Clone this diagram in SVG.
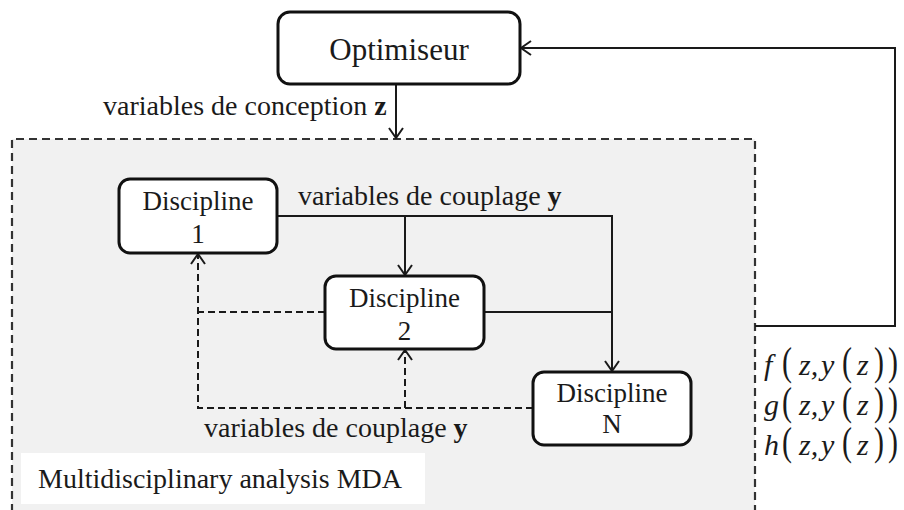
<svg xmlns="http://www.w3.org/2000/svg" width="904" height="510" viewBox="0 0 904 510">
<style>
text{font-family:"Liberation Serif","Times New Roman",serif;fill:#1a1a1a}
.box{fill:#fff;stroke:#111;stroke-width:3}
.lbl{font-size:27px}
.t{font-size:28px}
.c{fill:none;stroke:#1a1a1a;stroke-width:2}
.d{stroke-dasharray:7 4}
.m{font-size:30px;font-style:italic}
.p{font-size:40px}
</style>
<defs>
<marker id="ah" viewBox="0 0 12 16" refX="11" refY="8" markerWidth="12" markerHeight="16" markerUnits="userSpaceOnUse" orient="auto">
<path d="M1,1 L11,8 L1,15" fill="none" stroke="#1a1a1a" stroke-width="2" stroke-dasharray="none"/>
</marker>
</defs>
<rect width="904" height="510" fill="#fff"/>
<g id="mda">
<rect x="12" y="139" width="743" height="380" fill="#f1f1f1"/>
<path d="M12,512 V139 H755 V512" fill="none" stroke="#333" stroke-width="2.2" stroke-dasharray="8 5"/>
<rect x="21" y="453" width="404" height="51" fill="#fff"/>
<text class="t" x="38" y="488">Multidisciplinary analysis MDA</text>
</g>
<g id="connectors">
<path class="c" d="M396,85 V138" marker-end="url(#ah)"/>
<path class="c" d="M278,216 H612 V371" marker-end="url(#ah)"/>
<path class="c" d="M405,216 V275" marker-end="url(#ah)"/>
<path class="c" d="M484,312 H612"/>
<path class="c" d="M755,326 H895 V48 H521" marker-end="url(#ah)"/>
<path class="c d" d="M533,408 H198 V254" marker-end="url(#ah)"/>
<path class="c d" d="M325,312 H198"/>
<path class="c d" d="M405,408 V350" marker-end="url(#ah)"/>
<text class="t" x="103" y="115">variables de conception <tspan font-weight="bold">z</tspan></text>
<text class="t" x="298" y="205">variables de couplage <tspan font-weight="bold">y</tspan></text>
<text class="t" x="204" y="437">variables de couplage <tspan font-weight="bold">y</tspan></text>
</g>
<g id="optimiseur">
<rect class="box" x="278" y="12" width="242" height="72" rx="12"/>
<text x="399" y="60" font-size="31" text-anchor="middle">Optimiseur</text>
</g>
<g id="discipline1">
<rect class="box" x="119" y="179" width="158" height="74" rx="11"/>
<text class="lbl" x="198" y="210" text-anchor="middle">Discipline</text>
<text class="lbl" x="198" y="243" text-anchor="middle">1</text>
</g>
<g id="discipline2">
<rect class="box" x="325" y="276" width="159" height="73" rx="11"/>
<text class="lbl" x="404.5" y="307" text-anchor="middle">Discipline</text>
<text class="lbl" x="404.5" y="340" text-anchor="middle">2</text>
</g>
<g id="disciplineN">
<rect class="box" x="533" y="372" width="158" height="73" rx="11"/>
<text class="lbl" x="612" y="402" text-anchor="middle">Discipline</text>
<text class="lbl" x="612" y="433" text-anchor="middle">N</text>
</g>
<g id="outputs">
<g id="out-f">
<text class="m" y="375"><tspan x="764">f</tspan><tspan x="799">z,</tspan><tspan x="821">y</tspan><tspan x="857">z</tspan></text>
<text class="p" transform="translate(782,375) scale(0.75,1)">(</text>
<text class="p" transform="translate(842,375) scale(0.75,1)">(</text>
<text class="p" transform="translate(874,375) scale(0.75,1)">)</text>
<text class="p" transform="translate(888,375) scale(0.75,1)">)</text>
</g>
<g id="out-g">
<text class="m" y="415"><tspan x="764">g</tspan><tspan x="799">z,</tspan><tspan x="821">y</tspan><tspan x="857">z</tspan></text>
<text class="p" transform="translate(782,415) scale(0.75,1)">(</text>
<text class="p" transform="translate(842,415) scale(0.75,1)">(</text>
<text class="p" transform="translate(874,415) scale(0.75,1)">)</text>
<text class="p" transform="translate(888,415) scale(0.75,1)">)</text>
</g>
<g id="out-h">
<text class="m" y="455"><tspan x="764">h</tspan><tspan x="799">z,</tspan><tspan x="821">y</tspan><tspan x="857">z</tspan></text>
<text class="p" transform="translate(782,455) scale(0.75,1)">(</text>
<text class="p" transform="translate(842,455) scale(0.75,1)">(</text>
<text class="p" transform="translate(874,455) scale(0.75,1)">)</text>
<text class="p" transform="translate(888,455) scale(0.75,1)">)</text>
</g>
</g>
</svg>
